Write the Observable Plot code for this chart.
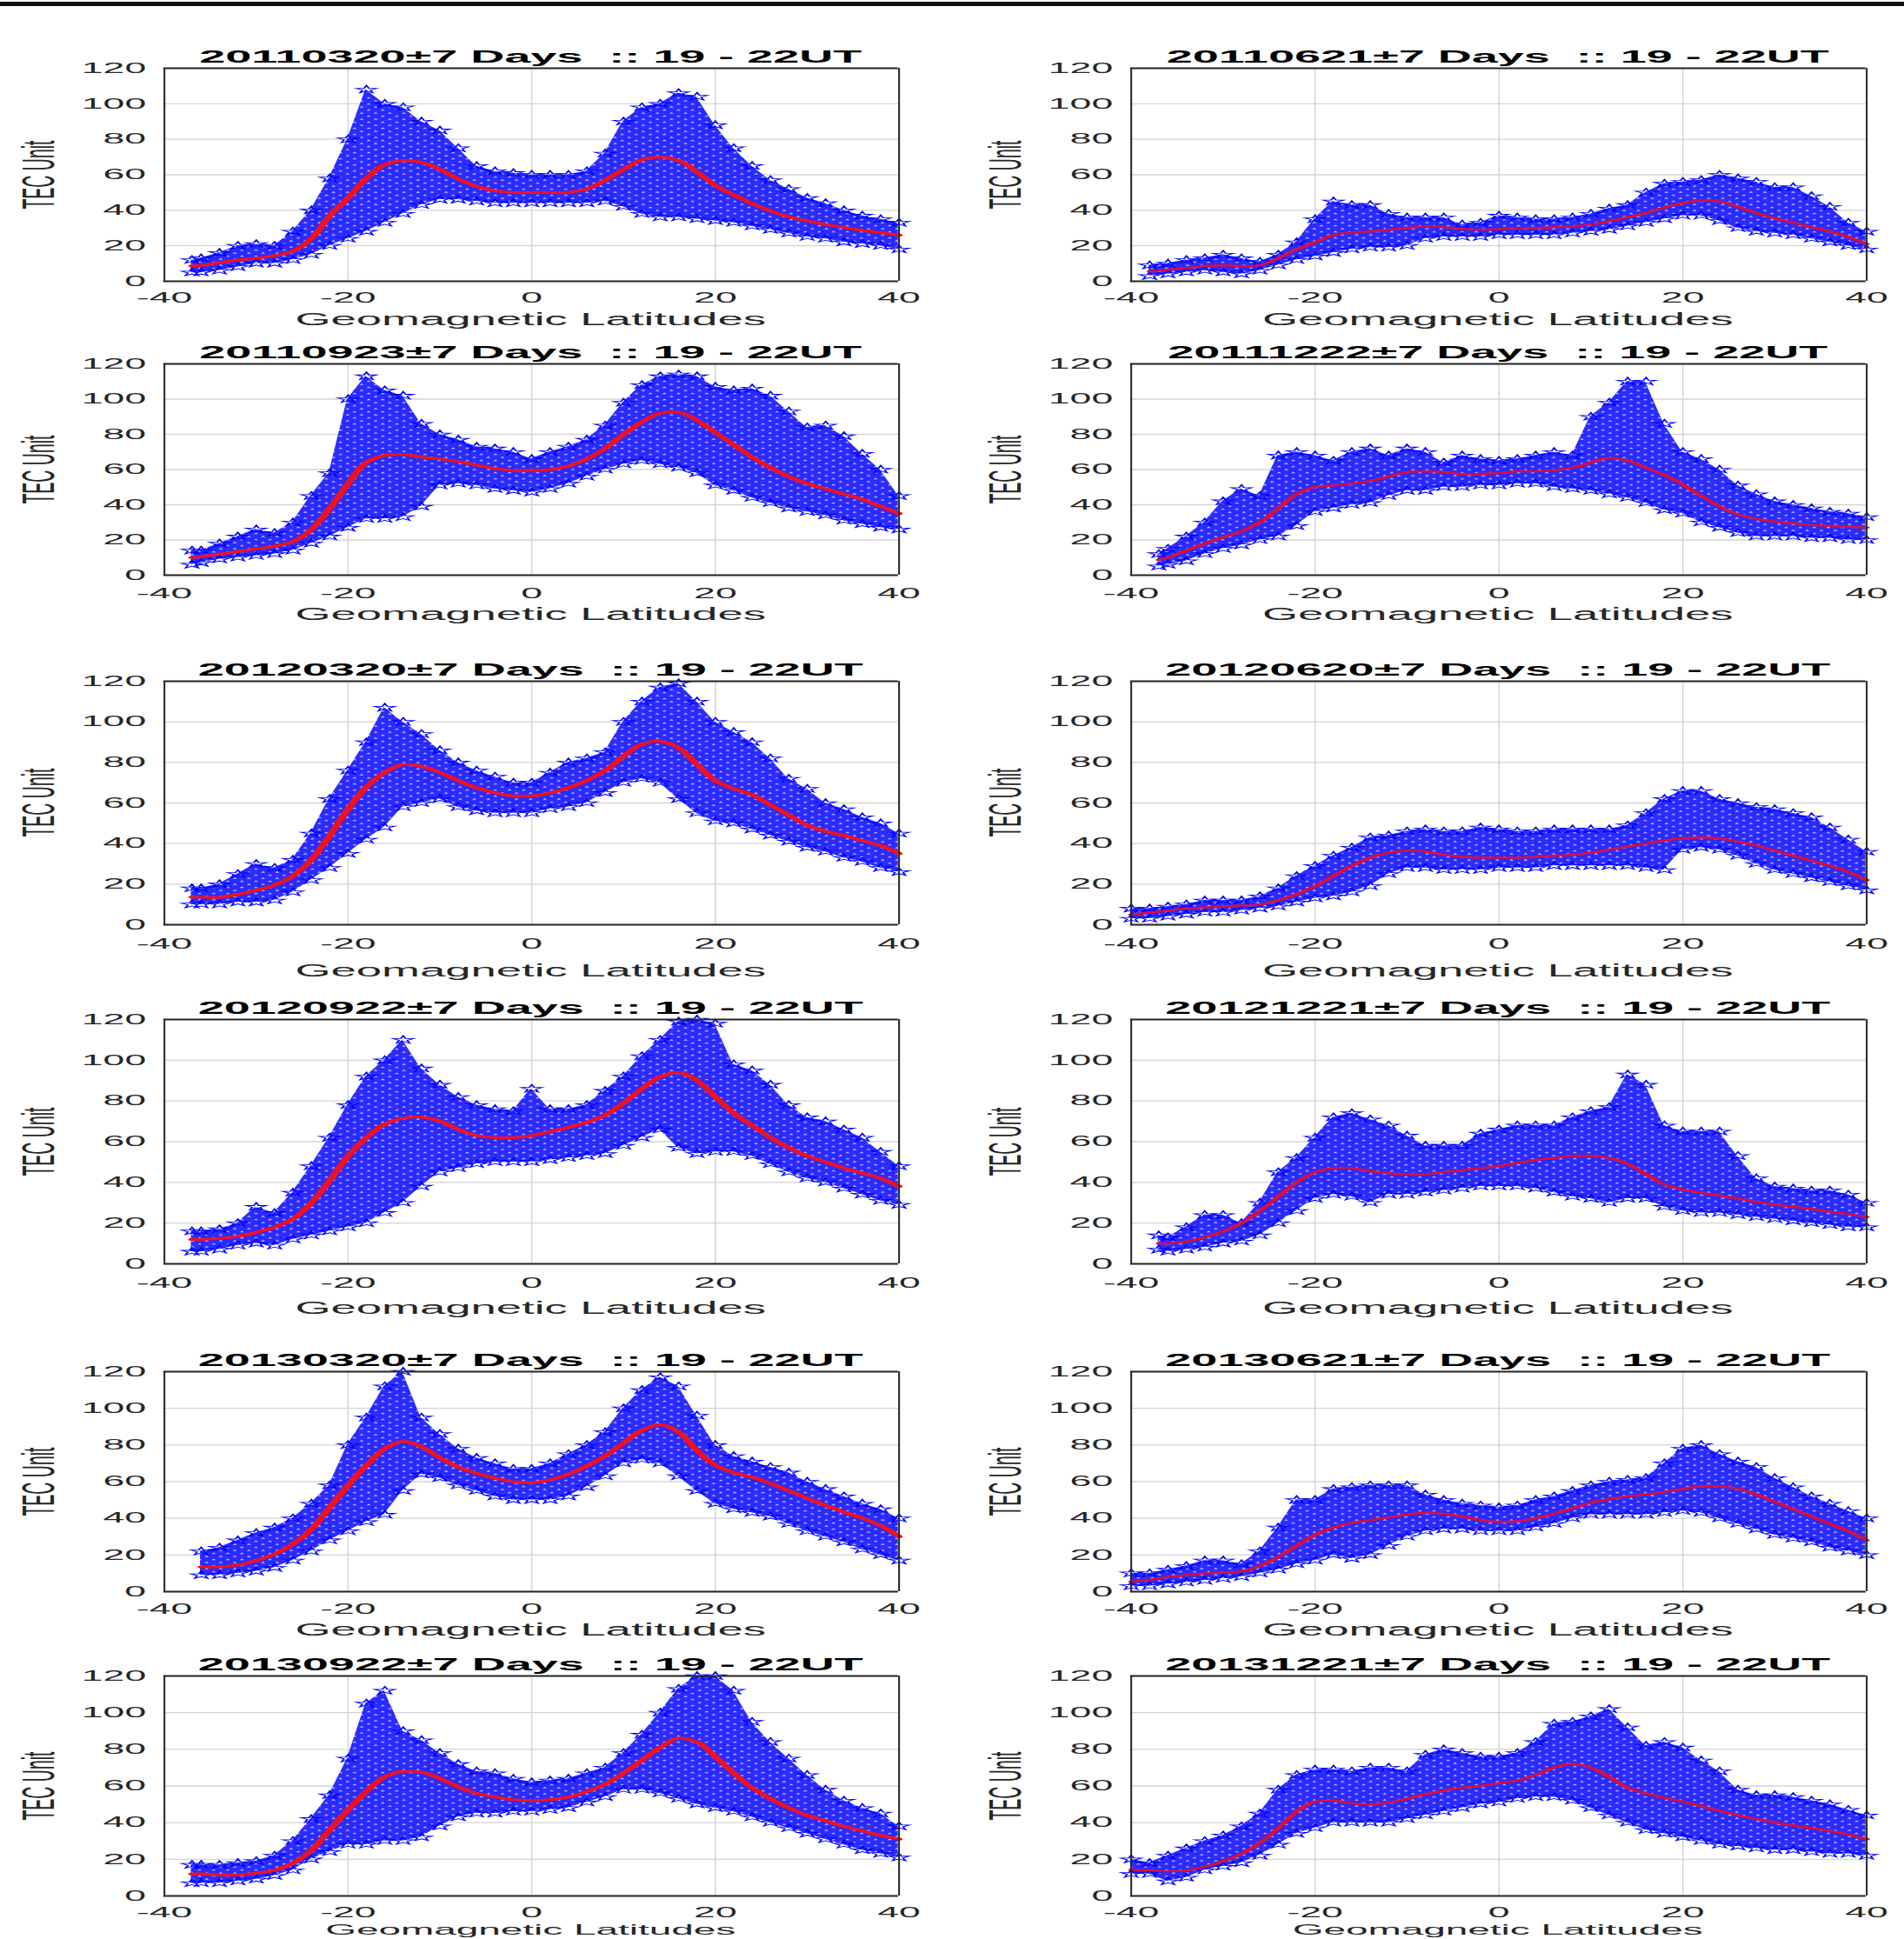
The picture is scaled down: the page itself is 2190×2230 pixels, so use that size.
<!DOCTYPE html>
<html>
<head>
<meta charset="utf-8">
<script src="https://cdn.jsdelivr.net/npm/d3@7"></script>
<script src="https://cdn.jsdelivr.net/npm/@observablehq/plot@0.6"></script>
<style>
html,body{margin:0;padding:0;background:#fff;}
body{width:2190px;height:2230px;overflow:hidden;position:relative;font-family:"Liberation Sans",Arial,Helvetica,sans-serif;}
#topline{position:absolute;left:0;top:2px;width:2190px;height:5px;background:#111;}
.panel{position:absolute;transform-origin:0 0;}
.panel svg{position:absolute;left:0;top:0;}
.ttl{position:absolute;font-weight:bold;font-size:20px;line-height:1;color:#000;text-align:center;white-space:pre;}
.xlab{position:absolute;line-height:1;color:#262626;text-align:center;white-space:pre;}
.ylab{position:absolute;font-size:19.5px;line-height:1;color:#262626;white-space:pre;transform:translate(-50%,-50%) rotate(-90deg);}
</style>
</head>
<body>
<div id="topline"></div>
<div id="root"></div>
<script>
// ---------------- data ----------------
const xTicks = [-40, -20, 0, 20, 40];
const yTicks = [0, 20, 40, 60, 80, 100, 120];
const xDomain = [-40, 40];
const yDomain = [0, 120];

// geomagnetic latitude samples
const latA = [-37,-36,-34,-32,-30,-28,-26,-24,-22,-20,-18,-16,-14,-12,-10,-8,-6,-4,-2,0,2,4,6,8,10,12,14,16,18,20,22,24,26,28,30,32,34,36,38,40];
const latB = [-40,-38,-36,-34,-32,-30,-28,-26,-24,-22,-20,-18,-16,-14,-12,-10,-8,-6,-4,-2,0,2,4,6,8,10,12,14,16,18,20,22,24,26,28,30,32,34,36,38,40];

const titles = ["20110320","20110621","20110923","20111222","20120320","20120620","20120922","20121221","20130320","20130621","20130922","20131221"];

// mean TEC (red curve), upper and lower limits of the daily star cloud
const mean_20110320 = [8.6,9,10.5,12,13,14.5,17,24,37,47,58,65.7,68,67,63,57.6,53.5,51,50,50,50,50,52,57,63,68.5,70,68,61.6,54,48.6,43.7,39.6,36.4,34,32,30.3,28.7,27.4,26];
const hi_20110320 = [12,13,16,20,21,20,28,40,58,80,108,100,98,90,85,75,65,62,61,60,60,60,62,72,90,98,100,106,104,88,75,65,57,52,47,44,40,37,35,33];
const lo_20110320 = [5,5,6,8,10,10,12,15,20,24,28,33,38,43,46,46,45,44,44,44,44,44,44,45,42,38,36,36,35,34,33,31,29,27,25,24,22,21,20,18];

const mean_20110621 = [null,5.5,6.5,7.5,8.5,9,8.5,9,13,18,22,26,27.5,28,29,30,31,30.5,29.5,29,29.5,30,30,30.5,31,32,34,36,38.5,41.5,44,45.5,45,42,38.5,35.5,33,30.5,28,25,21];
const hi_20110621 = [null,9,10,12,13,15,13,11,15,22,35,45,43,43,38,36,36,36,32,33,37,36,35,35,36,38,41,43,50,55,56,57,60,58,56,53,53,48,42,33,28];
const lo_20110621 = [null,3,4,5,6,5,4,6,9,12,14,16,18,19,19,20,24,25,25,25,26,26,26,26,27,28,29,31,33,35,37,37,34,30,28,27,26,24,22,20,18];

const mean_20110923 = [10,10.5,12,13.5,15,16.5,19,26,38,52,64,68,68.5,67,66,64.5,62.5,60.5,59.5,59.5,60,62,66,72,80,87,92,92.5,88,81,74,67,61,56,52,49,46,43,39,35];
const hi_20110923 = [14,14,18,22,26,24,30,45,58,100,113,105,102,86,80,77,73,72,70,66,70,73,77,85,98,108,113,114,113,107,105,106,102,93,84,85,79,69,60,45];
const lo_20110923 = [6,7,9,10,11,12,14,18,22,27,32,32,33,39,51,52,51,49,48,47,49,52,56,60,63,65,63,61,58,51,48,44,41,38,36,34,31,29,27,26];

const mean_20111222 = [8.7,10,14,18,21.5,25,30,38,46,50,51,52,53.5,56,58.5,59,58.5,57.5,57.5,58,59,59,59.5,61,64,66.5,65,61,57,51.5,45,39,34.5,32,30.5,29.5,28.5,28,27.5,27];
const hi_20111222 = [12,15,22,30,42,49,45,68,70,68,65,70,72,68,72,70,64,68,66,65,66,68,70,68,90,98,110,110,86,70,66,60,51,46,42,40,38,36,35,33];
const lo_20111222 = [5,6,8,12,15,17,20,22,28,36,38,40,41,45,48,48,50,50,51,51,52,52,50,49,48,46,44,41,37,35,30,27,24,22,22,22,21,21,20,20];

const mean_20120320 = [13.6,13.5,13.5,15,17,19.5,24,32,44,57,68,75,79,78,75,71,67.5,65,63.5,63.5,65,67.5,71,76,83,89,90.5,87,79,71,67,64,59,54,49,46,44,41.5,39,35];
const hi_20120320 = [18,18,20,25,30,28,32,45,62,76,90,107,100,94,86,80,76,73,70,70,75,80,82,85,100,110,117,119,110,100,95,90,82,72,67,60,57,53,50,45];
const lo_20120320 = [10,10,10,11,11,12,16,22,28,35,42,48,58,60,62,58,56,55,55,55,57,58,60,65,70,72,70,62,55,51,50,47,44,41,38,36,33,31,28,26];

const mean_20120620 = [5,6,7,8,8.5,9,9.5,10,12,15,19,24,29,33,35.5,36.5,36,34.5,33.5,33,33,33,33.5,34,34.5,35.5,37,38.5,40,41.5,42.5,43,42.5,41,39,36.5,34,31.5,29,26,22];
const hi_20120620 = [8,8,9,10,12,12,12,14,18,24,29,34,38,43,44,46,47,46,46,48,47,46,46,47,47,47,47,49,55,62,66,66,62,60,58,57,55,53,48,42,36];
const lo_20120620 = [3,3,4,5,6,6,7,8,9,11,13,14,16,19,25,28,28,27,27,27,28,28,28,29,29,29,29,29,28,27,37,38,37,34,30,27,25,23,21,19,17];

const mean_20120922 = [12,12,12.5,13.5,15.5,18,22,30,41,53,62,68.5,71.5,72,70,66,63,62,62,63,65,67,69.5,73,79,86,92,94,90,82,74,68,62,57,53,50,47,44.5,42,38];
const hi_20120922 = [16,16,17,20,28,25,35,48,62,78,92,100,110,96,88,82,78,76,75,86,76,76,78,85,92,102,110,119,120,118,98,95,88,78,72,70,66,62,55,48];
const lo_20120922 = [6,6,7,9,10,9,12,14,16,18,20,25,30,38,45,47,49,50,50,50,51,52,53,54,58,62,66,57,54,55,55,53,49,45,42,40,37,34,31,29];

const mean_20121221 = [10,10,11,13,16,20,26,33,40,45,47,47,45.5,44.5,44,44,45,46,47,48,49.5,51,52,53,53,52,49,44,39,36.5,35,33.5,32,30.5,29,28,27,25.5,24.5,23];
const hi_20121221 = [14,13,18,24,24,20,30,45,52,62,72,74,71,68,63,58,58,58,64,66,68,68,68,72,75,77,93,88,68,65,65,65,53,42,38,37,36,36,34,30];
const lo_20121221 = [7,6,7,8,10,11,14,20,26,32,34,33,30,34,34,35,36,37,38,38,38,37,35,33,32,30,32,32,28,26,25,25,24,23,22,21,20,19,18,18];

const mean_20130320 = [null,13.5,13.5,14.5,17,20.5,26,34,46,58,69,78,82,79,73,68,64.5,62,60,59.5,61,64,68.5,74,81,88,91,87,77,69,65,62.5,59,55,51,47,43.5,40,36,30];
const hi_20130320 = [null,22,24,28,32,35,40,48,58,80,95,112,120,95,86,78,73,70,67,67,70,75,80,87,100,110,117,112,96,80,74,71,68,65,60,56,52,48,45,40];
const lo_20130320 = [null,9,9,10,11,13,17,22,28,33,38,42,55,64,62,58,55,52,50,50,50,52,57,63,70,72,70,63,55,48,45,43,41,37,33,30,27,23,20,17];

const mean_20130621 = [5.5,6.5,8,9,10,10.5,11,14,19,25,31,35,37.5,39,40.5,42,43,42.5,41,39,38,38.5,40,42.5,45.5,48.5,50.5,52,53,54.5,56,57.5,57.5,56,53,49,45,41,37,33,28];
const hi_20130621 = [10,10,12,14,17,17,15,22,35,50,50,56,57,58,58,58,53,50,48,47,46,47,50,52,55,58,60,61,62,70,78,80,75,71,68,62,57,52,48,44,40];
const lo_20130621 = [3,3,4,5,6,7,8,10,12,15,17,20,18,20,25,30,33,34,34,33,33,33,35,37,40,42,42,42,42,43,44,43,40,37,34,31,29,27,24,22,20];

const mean_20130922 = [12,12,11.5,11.5,12.5,14,18,25,36,47,57,65,68,67.5,64,59.5,56,54,52.5,52,52.5,54,57,61,67,74,81,86,84,76,67,59,53,48,44,41,38,35.5,33,31];
const hi_20130922 = [17,17,17,18,19,22,30,42,55,75,105,112,90,85,78,72,68,67,64,62,63,64,67,70,78,88,100,113,120,120,112,95,84,75,66,58,52,48,45,38];
const lo_20130922 = [7,7,7,8,9,11,14,20,24,28,28,30,30,32,38,43,45,45,46,46,47,48,51,54,58,58,56,53,50,48,46,43,40,37,34,31,28,25,23,21];

const mean_20131221 = [14.2,14,13.5,14,16,19,23,29,37,46,51.5,52,50.5,50,51,53,55.5,57.5,59,60,61.5,63,66,70,72,70,65,59,56,53.5,51.5,49,46.5,44,42,40,38.5,37,35.5,33.5,31];
const hi_20131221 = [20,18,22,26,30,33,38,45,58,66,69,69,68,70,70,68,77,80,78,76,76,78,84,94,95,98,102,92,82,84,81,74,68,58,55,55,54,52,50,47,44];
const lo_20131221 = [12,12,8,10,14,16,18,22,28,34,37,40,40,40,40,42,44,46,48,50,51,53,54,54,52,48,44,40,36,34,32,30,28,27,26,25,25,24,23,23,22];

const series = [
  [latA, mean_20110320, hi_20110320, lo_20110320],
  [latB, mean_20110621, hi_20110621, lo_20110621],
  [latA, mean_20110923, hi_20110923, lo_20110923],
  [latA, mean_20111222, hi_20111222, lo_20111222],
  [latA, mean_20120320, hi_20120320, lo_20120320],
  [latB, mean_20120620, hi_20120620, lo_20120620],
  [latA, mean_20120922, hi_20120922, lo_20120922],
  [latA, mean_20121221, hi_20121221, lo_20121221],
  [latA, mean_20130320, hi_20130320, lo_20130320],
  [latB, mean_20130621, hi_20130621, lo_20130621],
  [latA, mean_20130922, hi_20130922, lo_20130922],
  [latB, mean_20131221, hi_20131221, lo_20131221]
];

// ---------------- layout (page pixels) ----------------
const S = 2.7;                       // horizontal stretch of the original figure
const colLeft = [188, 1300], colRight = [1033, 2146];
const rowTop = [78, 418, 783, 1172, 1577, 1927];
const rowBottom = [323, 661, 1063, 1453, 1830, 2180];
const tickPad = [13, 15, 16, 16, 14, 13];
const xlabOff = [45, 46, 54, 52, 45, 39];
const xlabSize = [19.5, 19.5, 19.5, 19.5, 19.5, 17];
const lineColor = ["#ee1122", "#d3103f"];
const lineWidth = [3.2, 2.6];
const FONT = '"Liberation Sans", Arial, Helvetica, sans-serif';
const NS = "http://www.w3.org/2000/svg";
const starPath = d3.symbol(d3.symbolStar, 4.2)();

const root = document.getElementById("root");

series.forEach((s, k) => {
  const [lat, mean, hi, lo] = s;
  const col = k % 2, row = Math.floor(k / 2);
  const L = colLeft[col], R = colRight[col], T = rowTop[row], B = rowBottom[row];
  const fw = (R - L) / S, fh = B - T;
  const mL = 64, mR = 10, mT = 30, mB = 70;
  const data = lat.map((x, i) => ({lat: x, mean: mean[i], hi: hi[i], lo: lo[i]}));
  const pid = "starcloud" + k;

  const chart = Plot.plot({
    width: fw + mL + mR,
    height: fh + mT + mB,
    marginLeft: mL, marginRight: mR, marginTop: mT, marginBottom: mB,
    x: {domain: xDomain},
    y: {domain: yDomain},
    style: {fontFamily: FONT, fontSize: "16.5px", color: "#262626", background: "transparent", overflow: "visible"},
    marks: [
      Plot.gridX(xTicks, {stroke: "#d4d4d4", strokeOpacity: 1, strokeWidth: 0.55}),
      Plot.gridY(yTicks, {stroke: "#d4d4d4", strokeOpacity: 1, strokeWidth: 1.3}),
      Plot.areaY(data, {x: "lat", y1: "lo", y2: "hi", fill: `url(#${pid})`, fillOpacity: 0.92, curve: "linear"}),
      Plot.dot(data, {x: "lat", y: "hi", symbol: "star", r: 2.8, fill: "none", stroke: "#0000ff", strokeWidth: 0.8}),
      Plot.dot(data, {x: "lat", y: "lo", symbol: "star", r: 2.8, fill: "none", stroke: "#0000ff", strokeWidth: 0.8}),
      Plot.lineY(data, {x: "lat", y: "mean", stroke: lineColor[col], strokeWidth: lineWidth[col], curve: "catmull-rom"}),
      Plot.ruleX(xDomain, {stroke: "#262626", strokeWidth: 0.75}),
      Plot.ruleY(yDomain, {stroke: "#262626", strokeWidth: 1.8}),
      Plot.axisX(xTicks, {tickSize: 0, tickPadding: tickPad[row], label: null, fontSize: 16.5, fill: "#262626", tickFormat: d => `${d}`}),
      Plot.axisY(yTicks, {tickSize: 0, tickPadding: 21 / S, label: null, fontSize: 16.5, fill: "#262626", tickFormat: d => `${d}`})
    ]
  });

  // star texture used to fill the dense part of the daily cloud
  const defs = document.createElementNS(NS, "defs");
  defs.innerHTML =
    `<pattern id="${pid}" patternUnits="userSpaceOnUse" width="6" height="7">` +
    `<rect width="6" height="7" fill="#1a1aff"/>` +
    `<path d="${starPath}" transform="translate(1.5,1.8)" fill="#ffffff" fill-opacity="0.75" stroke="#0000ff" stroke-width="0.35"/>` +
    `<path d="${starPath}" transform="translate(4.5,5.3)" fill="#ffffff" fill-opacity="0.75" stroke="#0000ff" stroke-width="0.35"/>` +
    `</pattern>`;
  chart.insertBefore(defs, chart.firstChild);

  const wrap = document.createElement("div");
  wrap.className = "panel";
  wrap.style.left = (L - mL * S) + "px";
  wrap.style.top = (T - mT) + "px";
  wrap.style.width = (fw + mL + mR) + "px";
  wrap.style.height = (fh + mT + mB) + "px";
  wrap.style.transform = `scaleX(${S})`;
  wrap.appendChild(chart);

  const t = document.createElement("div");
  t.className = "ttl";
  t.textContent = titles[k] + "\u00B17 Days  :: 19 - 22UT";
  t.style.left = mL + "px";
  t.style.width = fw + "px";
  t.style.top = (mT - 6 - 17) + "px";
  wrap.appendChild(t);

  const xl = document.createElement("div");
  xl.className = "xlab";
  xl.textContent = "Geomagnetic Latitudes";
  xl.style.fontSize = xlabSize[row] + "px";
  xl.style.left = mL + "px";
  xl.style.width = fw + "px";
  xl.style.top = (mT + fh + xlabOff[row] - 0.49 * xlabSize[row]) + "px";
  wrap.appendChild(xl);

  const yl = document.createElement("div");
  yl.className = "ylab";
  yl.textContent = "TEC Unit";
  yl.style.left = (mL - 142 / S) + "px";
  yl.style.top = (mT + fh / 2) + "px";
  wrap.appendChild(yl);

  root.appendChild(wrap);
});
</script>
</body>
</html>
